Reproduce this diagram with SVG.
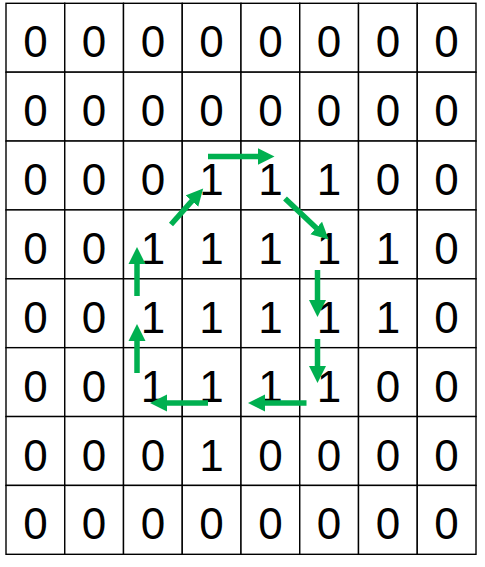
<svg xmlns="http://www.w3.org/2000/svg" width="485" height="567" viewBox="0 0 485 567">
<style>
.cell rect{fill:#fff;stroke:#000;stroke-width:1.4}
.cell text{font-family:"Liberation Sans",Arial,sans-serif;font-size:44px;fill:#000;text-anchor:middle}
.arr line{stroke:#00B050;stroke-width:5.5;fill:none}
</style>
<defs>
<marker id="ah" markerUnits="userSpaceOnUse" markerWidth="18" markerHeight="18" refX="0.5" refY="8.5" orient="auto" viewBox="0 0 18 17">
<path d="M0,0 L17,8.5 L0,17 z" fill="#00B050"/>
</marker>
</defs>
<rect width="485" height="567" fill="#fff"/>
<g id="grid">
<g id="r0">
<g class="cell" id="c0-0"><rect x="6" y="3.3" width="58.75" height="68.875"/><text x="35.4" y="57.3">0</text></g>
<g class="cell" id="c0-1"><rect x="64.75" y="3.3" width="58.75" height="68.875"/><text x="94.1" y="57.3">0</text></g>
<g class="cell" id="c0-2"><rect x="123.5" y="3.3" width="58.75" height="68.875"/><text x="152.9" y="57.3">0</text></g>
<g class="cell" id="c0-3"><rect x="182.25" y="3.3" width="58.75" height="68.875"/><text x="211.6" y="57.3">0</text></g>
<g class="cell" id="c0-4"><rect x="241" y="3.3" width="58.75" height="68.875"/><text x="270.4" y="57.3">0</text></g>
<g class="cell" id="c0-5"><rect x="299.75" y="3.3" width="58.75" height="68.875"/><text x="329.1" y="57.3">0</text></g>
<g class="cell" id="c0-6"><rect x="358.5" y="3.3" width="58.75" height="68.875"/><text x="387.9" y="57.3">0</text></g>
<g class="cell" id="c0-7"><rect x="417.25" y="3.3" width="58.75" height="68.875"/><text x="446.6" y="57.3">0</text></g>
</g>
<g id="r1">
<g class="cell" id="c1-0"><rect x="6" y="72.175" width="58.75" height="68.875"/><text x="35.4" y="126.2">0</text></g>
<g class="cell" id="c1-1"><rect x="64.75" y="72.175" width="58.75" height="68.875"/><text x="94.1" y="126.2">0</text></g>
<g class="cell" id="c1-2"><rect x="123.5" y="72.175" width="58.75" height="68.875"/><text x="152.9" y="126.2">0</text></g>
<g class="cell" id="c1-3"><rect x="182.25" y="72.175" width="58.75" height="68.875"/><text x="211.6" y="126.2">0</text></g>
<g class="cell" id="c1-4"><rect x="241" y="72.175" width="58.75" height="68.875"/><text x="270.4" y="126.2">0</text></g>
<g class="cell" id="c1-5"><rect x="299.75" y="72.175" width="58.75" height="68.875"/><text x="329.1" y="126.2">0</text></g>
<g class="cell" id="c1-6"><rect x="358.5" y="72.175" width="58.75" height="68.875"/><text x="387.9" y="126.2">0</text></g>
<g class="cell" id="c1-7"><rect x="417.25" y="72.175" width="58.75" height="68.875"/><text x="446.6" y="126.2">0</text></g>
</g>
<g id="r2">
<g class="cell" id="c2-0"><rect x="6" y="141.05" width="58.75" height="68.875"/><text x="35.4" y="195.1">0</text></g>
<g class="cell" id="c2-1"><rect x="64.75" y="141.05" width="58.75" height="68.875"/><text x="94.1" y="195.1">0</text></g>
<g class="cell" id="c2-2"><rect x="123.5" y="141.05" width="58.75" height="68.875"/><text x="152.9" y="195.1">0</text></g>
<g class="cell" id="c2-3"><rect x="182.25" y="141.05" width="58.75" height="68.875"/><text x="211.6" y="195.1">1</text></g>
<g class="cell" id="c2-4"><rect x="241" y="141.05" width="58.75" height="68.875"/><text x="270.4" y="195.1">1</text></g>
<g class="cell" id="c2-5"><rect x="299.75" y="141.05" width="58.75" height="68.875"/><text x="329.1" y="195.1">1</text></g>
<g class="cell" id="c2-6"><rect x="358.5" y="141.05" width="58.75" height="68.875"/><text x="387.9" y="195.1">0</text></g>
<g class="cell" id="c2-7"><rect x="417.25" y="141.05" width="58.75" height="68.875"/><text x="446.6" y="195.1">0</text></g>
</g>
<g id="r3">
<g class="cell" id="c3-0"><rect x="6" y="209.925" width="58.75" height="68.875"/><text x="35.4" y="264">0</text></g>
<g class="cell" id="c3-1"><rect x="64.75" y="209.925" width="58.75" height="68.875"/><text x="94.1" y="264">0</text></g>
<g class="cell" id="c3-2"><rect x="123.5" y="209.925" width="58.75" height="68.875"/><text x="152.9" y="264">1</text></g>
<g class="cell" id="c3-3"><rect x="182.25" y="209.925" width="58.75" height="68.875"/><text x="211.6" y="264">1</text></g>
<g class="cell" id="c3-4"><rect x="241" y="209.925" width="58.75" height="68.875"/><text x="270.4" y="264">1</text></g>
<g class="cell" id="c3-5"><rect x="299.75" y="209.925" width="58.75" height="68.875"/><text x="329.1" y="264">1</text></g>
<g class="cell" id="c3-6"><rect x="358.5" y="209.925" width="58.75" height="68.875"/><text x="387.9" y="264">1</text></g>
<g class="cell" id="c3-7"><rect x="417.25" y="209.925" width="58.75" height="68.875"/><text x="446.6" y="264">0</text></g>
</g>
<g id="r4">
<g class="cell" id="c4-0"><rect x="6" y="278.8" width="58.75" height="68.875"/><text x="35.4" y="332.8">0</text></g>
<g class="cell" id="c4-1"><rect x="64.75" y="278.8" width="58.75" height="68.875"/><text x="94.1" y="332.8">0</text></g>
<g class="cell" id="c4-2"><rect x="123.5" y="278.8" width="58.75" height="68.875"/><text x="152.9" y="332.8">1</text></g>
<g class="cell" id="c4-3"><rect x="182.25" y="278.8" width="58.75" height="68.875"/><text x="211.6" y="332.8">1</text></g>
<g class="cell" id="c4-4"><rect x="241" y="278.8" width="58.75" height="68.875"/><text x="270.4" y="332.8">1</text></g>
<g class="cell" id="c4-5"><rect x="299.75" y="278.8" width="58.75" height="68.875"/><text x="329.1" y="332.8">1</text></g>
<g class="cell" id="c4-6"><rect x="358.5" y="278.8" width="58.75" height="68.875"/><text x="387.9" y="332.8">1</text></g>
<g class="cell" id="c4-7"><rect x="417.25" y="278.8" width="58.75" height="68.875"/><text x="446.6" y="332.8">0</text></g>
</g>
<g id="r5">
<g class="cell" id="c5-0"><rect x="6" y="347.675" width="58.75" height="68.875"/><text x="35.4" y="401.7">0</text></g>
<g class="cell" id="c5-1"><rect x="64.75" y="347.675" width="58.75" height="68.875"/><text x="94.1" y="401.7">0</text></g>
<g class="cell" id="c5-2"><rect x="123.5" y="347.675" width="58.75" height="68.875"/><text x="152.9" y="401.7">1</text></g>
<g class="cell" id="c5-3"><rect x="182.25" y="347.675" width="58.75" height="68.875"/><text x="211.6" y="401.7">1</text></g>
<g class="cell" id="c5-4"><rect x="241" y="347.675" width="58.75" height="68.875"/><text x="270.4" y="401.7">1</text></g>
<g class="cell" id="c5-5"><rect x="299.75" y="347.675" width="58.75" height="68.875"/><text x="329.1" y="401.7">1</text></g>
<g class="cell" id="c5-6"><rect x="358.5" y="347.675" width="58.75" height="68.875"/><text x="387.9" y="401.7">0</text></g>
<g class="cell" id="c5-7"><rect x="417.25" y="347.675" width="58.75" height="68.875"/><text x="446.6" y="401.7">0</text></g>
</g>
<g id="r6">
<g class="cell" id="c6-0"><rect x="6" y="416.55" width="58.75" height="68.875"/><text x="35.4" y="470.6">0</text></g>
<g class="cell" id="c6-1"><rect x="64.75" y="416.55" width="58.75" height="68.875"/><text x="94.1" y="470.6">0</text></g>
<g class="cell" id="c6-2"><rect x="123.5" y="416.55" width="58.75" height="68.875"/><text x="152.9" y="470.6">0</text></g>
<g class="cell" id="c6-3"><rect x="182.25" y="416.55" width="58.75" height="68.875"/><text x="211.6" y="470.6">1</text></g>
<g class="cell" id="c6-4"><rect x="241" y="416.55" width="58.75" height="68.875"/><text x="270.4" y="470.6">0</text></g>
<g class="cell" id="c6-5"><rect x="299.75" y="416.55" width="58.75" height="68.875"/><text x="329.1" y="470.6">0</text></g>
<g class="cell" id="c6-6"><rect x="358.5" y="416.55" width="58.75" height="68.875"/><text x="387.9" y="470.6">0</text></g>
<g class="cell" id="c6-7"><rect x="417.25" y="416.55" width="58.75" height="68.875"/><text x="446.6" y="470.6">0</text></g>
</g>
<g id="r7">
<g class="cell" id="c7-0"><rect x="6" y="485.425" width="58.75" height="68.875"/><text x="35.4" y="539.4">0</text></g>
<g class="cell" id="c7-1"><rect x="64.75" y="485.425" width="58.75" height="68.875"/><text x="94.1" y="539.4">0</text></g>
<g class="cell" id="c7-2"><rect x="123.5" y="485.425" width="58.75" height="68.875"/><text x="152.9" y="539.4">0</text></g>
<g class="cell" id="c7-3"><rect x="182.25" y="485.425" width="58.75" height="68.875"/><text x="211.6" y="539.4">0</text></g>
<g class="cell" id="c7-4"><rect x="241" y="485.425" width="58.75" height="68.875"/><text x="270.4" y="539.4">0</text></g>
<g class="cell" id="c7-5"><rect x="299.75" y="485.425" width="58.75" height="68.875"/><text x="329.1" y="539.4">0</text></g>
<g class="cell" id="c7-6"><rect x="358.5" y="485.425" width="58.75" height="68.875"/><text x="387.9" y="539.4">0</text></g>
<g class="cell" id="c7-7"><rect x="417.25" y="485.425" width="58.75" height="68.875"/><text x="446.6" y="539.4">0</text></g>
</g>
</g>
<g id="connectors" class="arr">
<line x1="208" y1="156.5" x2="258" y2="156.5" marker-end="url(#ah)"/>
<line x1="171" y1="224.5" x2="192.2" y2="200.7" marker-end="url(#ah)"/>
<line x1="285" y1="198.5" x2="316.6" y2="228.3" marker-end="url(#ah)"/>
<line x1="317.5" y1="270" x2="317.5" y2="300.5" marker-end="url(#ah)"/>
<line x1="317.5" y1="339" x2="317.5" y2="366.5" marker-end="url(#ah)"/>
<line x1="306.5" y1="403" x2="264.5" y2="403" marker-end="url(#ah)"/>
<line x1="208" y1="403" x2="166.5" y2="403" marker-end="url(#ah)"/>
<line x1="137" y1="373" x2="137" y2="340.5" marker-end="url(#ah)"/>
<line x1="137" y1="296" x2="137" y2="263.5" marker-end="url(#ah)"/>
</g>
</svg>
